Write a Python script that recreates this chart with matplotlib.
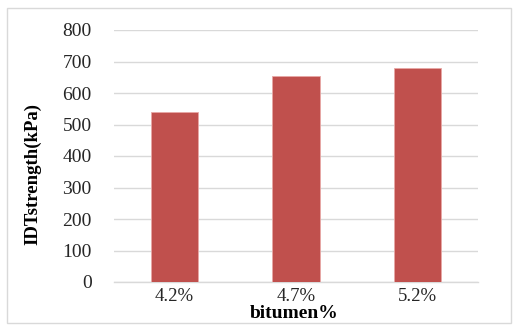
import matplotlib.pyplot as plt
from matplotlib.patches import Rectangle

categories = ['4.2%', '4.7%', '5.2%']
idt_strength = [540, 653, 678]
yticks = [0, 100, 200, 300, 400, 500, 600, 700, 800]

plt.rcParams['font.family'] = ['Liberation Serif', 'DejaVu Serif']

fig = plt.figure(figsize=(5.13, 3.25), dpi=100)
ax = fig.add_axes([114/513, 1 - 282/325, 364/513, 252/325])

x = range(len(categories))
ax.bar(x, idt_strength, width=0.39, color='#C0504D', edgecolor='#E8A8A6', linewidth=0.6, zorder=3)

ax.set_xlim(-0.5, 2.5)
ax.set_ylim(0, 800)
ax.set_yticks(yticks)
ax.set_xticks(list(x))
ax.set_xticklabels(categories)
ax.tick_params(axis='both', length=0, labelsize=14, colors='#262626')
ax.tick_params(axis='y', pad=16)
ax.tick_params(axis='x', pad=4, labelsize=13.5)
ax.grid(axis='y', color='#D9D9D9', linewidth=1, zorder=0)
for s in ['top', 'right', 'left']:
    ax.spines[s].set_visible(False)
ax.spines['bottom'].set_color('#D9D9D9')
ax.spines['bottom'].set_linewidth(1)

fig.text(33/513, 1 - 174/325, 'IDTstrength(kPa)', rotation=90, ha='center', va='center',
         fontsize=13.5, fontweight='bold')
fig.text(294/513, 1 - 318.5/325, 'bitumen%', ha='center', va='baseline',
         fontsize=14, fontweight='bold')

fig.patches.append(Rectangle((7/513, 2/325), 504/513, 315/325, transform=fig.transFigure,
                             fill=False, edgecolor='#D9D9D9', linewidth=1))

plt.savefig('out.png', dpi=100)
